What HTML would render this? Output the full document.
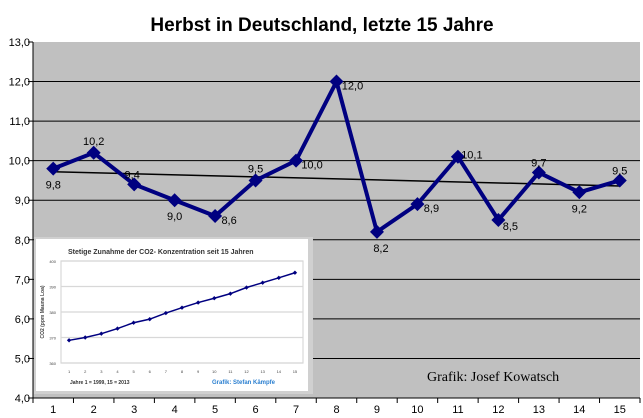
<!DOCTYPE html>
<html><head><meta charset="utf-8"><style>
html,body{margin:0;padding:0;background:#fff;}
svg{display:block;font-family:"Liberation Sans",Arial,sans-serif;}
</style></head><body>
<svg id="c" width="643" height="418" xmlns="http://www.w3.org/2000/svg">
<rect x="0" y="0" width="643" height="418" fill="#fff"/>
<text x="322" y="31" text-anchor="middle" font-size="19" font-weight="bold">Herbst in Deutschland, letzte 15 Jahre</text>
<rect x="33" y="42" width="607" height="356" fill="#c0c0c0"/>
<g id="grid"></g>
<g id="yt"></g>
<g id="xt"></g>
<g id="trend"></g>
<g id="ser"></g>
<g id="lbl"></g>
<g id="inset"></g>
<text x="427" y="381" font-family="Liberation Serif,serif" font-size="14">Grafik: Josef Kowatsch</text>
</svg>
<script>
const categories=[1,2,3,4,5,6,7,8,9,10,11,12,13,14,15];
const temps=[9.8,10.2,9.4,9.0,8.6,9.5,10.0,12.0,8.2,8.9,10.1,8.5,9.7,9.2,9.5];
const labels=["9,8","10,2","9,4","9,0","8,6","9,5","10,0","12,0","8,2","8,9","10,1","8,5","9,7","9,2","9,5"];
const yTicks=[4,5,6,7,8,9,10,11,12,13];
const yTickLabels=["4,0","5,0","6,0","7,0","8,0","9,0","10,0","11,0","12,0","13,0"];
const trendStartEnd=[9.72,9.36];
const co2Years=[1,2,3,4,5,6,7,8,9,10,11,12,13,14,15];
const co2=[368.9,370.0,371.5,373.5,375.8,377.2,379.6,381.7,383.7,385.4,387.2,389.6,391.5,393.4,395.4];
const co2Ticks=[360,370,380,390,400];

const NS="http://www.w3.org/2000/svg";
function mk(p,t,a,txt){const e=document.createElementNS(NS,t);for(const k in a)e.setAttribute(k,a[k]);if(txt!==undefined)e.textContent=txt;p.appendChild(e);return e;}
const L=33,R=640,T=42,B=398;
const bw=(R-L)/categories.length;
const xS=i=>L+bw*(i+0.5);
const yS=v=>B-(v-4)/9*(B-T);

const grid=document.getElementById('grid'),yt=document.getElementById('yt'),xt=document.getElementById('xt');
yTicks.forEach((v,i)=>{
  const y=yS(v);
  if(v>4&&v<13){const g=mk(grid,'line',{x1:L,x2:R,y1:y,y2:y,stroke:'#000','stroke-width':1});
  
  }
  const tk=mk(yt,'line',{x1:L-5,x2:L,y1:y,y2:y,stroke:'#000'});
  
  
  const t=mk(yt,'text',{x:L-3,y:y+4,'text-anchor':'end','font-size':11},yTickLabels[i]);
  
  
});
mk(yt,'line',{x1:L,x2:L,y1:T,y2:B,stroke:'#000'});
mk(xt,'line',{x1:L,x2:R,y1:B,y2:B,stroke:'#000'});
categories.forEach((c,i)=>{
  const x0=L+bw*i;
  const tk=mk(xt,'line',{x1:x0,x2:x0,y1:B,y2:B+5,stroke:'#000'});
  
  
  const t=mk(xt,'text',{x:xS(i),y:B+15,'text-anchor':'middle','font-size':11},String(c));
  
  
});
mk(xt,'line',{x1:R,x2:R,y1:B,y2:B+5,stroke:'#000'});

const tr=mk(document.getElementById('trend'),'line',{x1:xS(0),y1:yS(trendStartEnd[0]),x2:xS(categories.length-1),y2:yS(trendStartEnd[1]),stroke:'#000','stroke-width':1.5});



const ser=document.getElementById('ser');
const pl=mk(ser,'polyline',{points:temps.map((v,i)=>xS(i)+','+yS(v)).join(' '),fill:'none',stroke:'#000080','stroke-width':4,'stroke-linejoin':'miter'});


temps.forEach((v,i)=>{
  const x=xS(i),y=yS(v),s=7;
  const m=mk(ser,'polygon',{points:`${x},${y-s} ${x+s},${y} ${x},${y+s} ${x-s},${y}`,fill:'#000080'});
  
  
});
const offs=[[0,16],[0,-12],[-2,-10],[0,16],[14,4],[0,-12],[16,4],[16,4],[4,16],[14,4],[14,-2],[12,6],[0,-10],[0,16],[0,-10]];
const lbl=document.getElementById('lbl');
temps.forEach((v,i)=>{
  const t=mk(lbl,'text',{x:xS(i)+offs[i][0],y:yS(v)+offs[i][1]+4,'text-anchor':'middle','font-size':11},labels[i]);
  
  
});

// inset
const ins=document.getElementById('inset');
mk(ins,'rect',{x:34,y:237,width:279,height:157,fill:'#d0d0d0'});
mk(ins,'rect',{x:36,y:239,width:272,height:152,fill:'#fff'});
mk(ins,'text',{x:68,y:254,'font-size':7,'font-weight':'bold',fill:'#333'},'Stetige Zunahme der CO2- Konzentration seit 15 Jahren');
const iL=61,iR=303,iTop=261,iBot=363;
const ix=i=>iL+(iR-iL)/15*(i+0.5);
const iy2=v=>iBot-(v-360)/40*(iBot-iTop);
co2Ticks.forEach(v=>{
  const y=iy2(v);
  mk(ins,'line',{x1:iL,x2:iR,y1:y,y2:y,stroke:'#d8d8d8','stroke-width':1.2});
  mk(ins,'text',{x:iL-5,y:y+2,'text-anchor':'end','font-size':4,fill:'#444'},String(v));
});
mk(ins,'rect',{x:iL,y:iTop,width:iR-iL,height:iBot-iTop,fill:'none',stroke:'#d8d8d8','stroke-width':1.2});
mk(ins,'text',{x:44,y:312,'font-size':5,'font-weight':'bold',fill:'#444',transform:'rotate(-90 44 312)','text-anchor':'middle'},'CO2 (ppm Mauna Loa)');
const cl=mk(ins,'polyline',{points:co2.map((v,i)=>ix(i)+','+iy2(v)).join(' '),fill:'none',stroke:'#000080','stroke-width':1.5});


co2.forEach((v,i)=>{
  const x=ix(i),y=iy2(v);
  const m=mk(ins,'polygon',{points:`${x},${y-2.2} ${x+2.2},${y} ${x},${y+2.2} ${x-2.2},${y}`,fill:'#000080'});
  
  
});
co2Years.forEach((c,i)=>mk(ins,'text',{x:ix(i),y:373,'text-anchor':'middle','font-size':4,fill:'#444'},String(c)));
mk(ins,'text',{x:70,y:384,'font-size':5,'font-weight':'bold',fill:'#333'},'Jahre 1 = 1999, 15 = 2013');
mk(ins,'text',{x:212,y:384,'font-size':6,'font-weight':'bold',fill:'#2a7fd0'},'Grafik: Stefan Kämpfe');
</script>
</body></html>
